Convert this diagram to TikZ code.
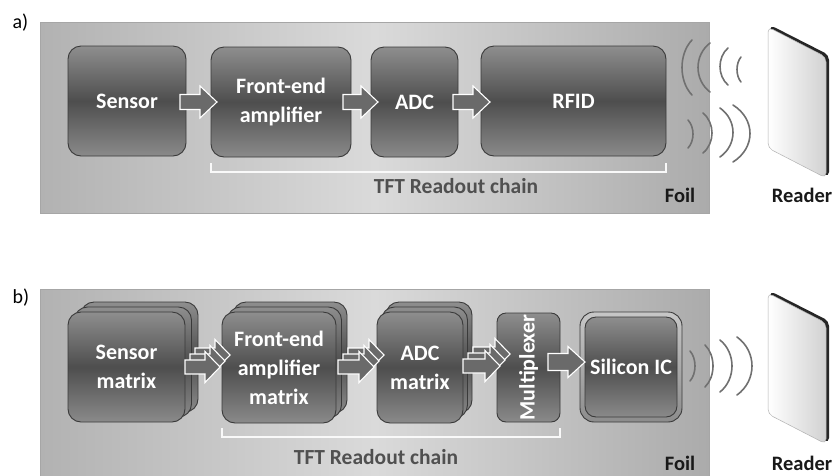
\documentclass[tikz,border=0pt]{standalone}
\usepackage{fontspec}
\setmainfont{Carlito}
\usetikzlibrary{calc}
\definecolor{boxtop}{HTML}{8E8E8E}
\definecolor{boxmid}{HTML}{4E4E4E}
\definecolor{boxbot}{HTML}{8A8A8A}
\definecolor{boxedge}{HTML}{3A3A3A}
\definecolor{foilL}{HTML}{B2B2B2}
\definecolor{foilM}{HTML}{DADADA}
\definecolor{foilR}{HTML}{ABABAB}
\definecolor{wavec}{HTML}{707070}
\definecolor{tftc}{HTML}{505050}
\definecolor{arrfill}{HTML}{6A6A6A}
\tikzset{
  blk/.style={draw=boxedge, line width=0.9pt, rounded corners=13pt,
    top color=boxtop, bottom color=boxbot, middle color=boxmid,
    text=white, font=\fontsize{22}{29}\selectfont\bfseries, align=center, inner sep=0pt},
  foil/.style={draw=gray!70, line width=0.6pt, left color=foilL, right color=foilR, middle color=foilM},
  barrow/.style={fill=arrfill, draw=white, line width=1.1pt, line join=miter},
  wavestyle/.style={draw=wavec, line width=1.6pt, line cap=round},
  bracketline/.style={draw=white!95!gray, line width=1.4pt},
  tft/.style={text=tftc, font=\fontsize{21.5}{25}\selectfont\bfseries, anchor=base},
  lbl/.style={text=black!90, font=\fontsize{20.5}{24}\selectfont\bfseries, anchor=base},
  panel/.style={text=black, font=\fontsize{20}{24}\selectfont, anchor=base west},
  readerside/.style={fill=black!85, rounded corners=5pt},
  readerface/.style={left color=white, right color=black!18, draw=black!30, line width=0.5pt, rounded corners=5pt},
}
% block arrow: start, end, shaft half, head half, head length
\newcommand\blockarr[5]{%
  \path[barrow] let \p1=(#1), \p2=(#2) in
  (\x1,\y1+#3) -- (\x2-#5,\y1+#3) -- (\x2-#5,\y1+#4) -- (\x2,\y1)
  -- (\x2-#5,\y1-#4) -- (\x2-#5,\y1-#3) -- (\x1,\y1-#3) -- cycle;}
% wave arc: tip x, center y, half height, bulge (signed)
\newcommand\wavearc[4]{%
  \draw[wavestyle] (#1,{#2-#3}) .. controls ({#1+1.333*#4},{#2-0.5*#3}) and ({#1+1.333*#4},{#2+0.5*#3}) .. (#1,{#2+#3});}
\begin{document}
\begin{tikzpicture}[x=1pt,y=-1pt]
\useasboundingbox (0,0) rectangle (838,475);
\fill[white] (0,0) rectangle (838,475);

% ================= panel a =================
\node[panel] (la) at (9,28) {a)};
\path[foil] (40,22) rectangle (709,213);

\node[blk, minimum width=118pt, minimum height=110pt] (sensor) at (127,101) {Sensor};
\node[blk, minimum width=140pt, minimum height=110pt] (fe) at (281,102) {Front-end\\amplifier};
\node[blk, minimum width=87pt, minimum height=110pt] (adc) at (414.5,102) {ADC};
\node[blk, minimum width=185pt, minimum height=110pt] (rfid) at (573.5,101) {RFID};

\coordinate (a1s) at (180,102); \coordinate (a1e) at (217,102);
\coordinate (a2s) at (343,102); \coordinate (a2e) at (378,102);
\coordinate (a3s) at (453,102); \coordinate (a3e) at (490,102);
\blockarr{a1s}{a1e}{7.5pt}{16pt}{17pt}
\blockarr{a2s}{a2e}{7.5pt}{16pt}{17pt}
\blockarr{a3s}{a3e}{7.5pt}{16pt}{17pt}

\draw[bracketline] (211,163) -- (211,172) -- (666,172) -- (666,163);
\node[tft] (tfta) at (456,193) {TFT Readout chain};
\node[lbl] (foila) at (680,202) {Foil};

% waves a
\wavearc{692}{67.5}{27.5}{-10}
\wavearc{710}{67.5}{24.5}{-12}
\wavearc{728}{66.5}{18.5}{-8}
\wavearc{741}{69.5}{12.5}{-4}
\wavearc{688}{134}{14}{5}
\wavearc{703}{133}{20}{9}
\wavearc{720}{132.5}{24.5}{13}
\wavearc{733}{133.5}{28.5}{17}

% reader a
\path[readerside] (770,25) -- (829,55) -- (829,177) -- (770,147) -- cycle;
\path[readerface] (768,27) -- (826,57) -- (826,178) -- (768,148) -- cycle;
\node[lbl] (readera) at (802,202) {Reader};

% ================= panel b =================
\node[panel] (lb) at (9,303) {b)};
\path[foil] (40,289) rectangle (709,480);

% sensor matrix
\node[blk, minimum width=117pt, minimum height=110pt] (sm3) at (139.5,357) {};
\node[blk, minimum width=117pt, minimum height=110pt] (sm2) at (133,362) {};
\node[blk, minimum width=117pt, minimum height=110pt] (sm) at (126.5,367) {Sensor\\matrix};
% front-end matrix
\node[blk, minimum width=114pt, minimum height=111pt] (fm3) at (290,357.5) {};
\node[blk, minimum width=114pt, minimum height=111pt] (fm2) at (284.5,362.5) {};
\node[blk, minimum width=114pt, minimum height=111pt] (fm) at (279,367.5) {Front-end\\amplifier\\matrix};
% adc matrix
\node[blk, minimum width=86pt, minimum height=111pt] (am3) at (429,357.5) {};
\node[blk, minimum width=86pt, minimum height=111pt] (am2) at (424.5,362.5) {};
\node[blk, minimum width=86pt, minimum height=111pt] (am) at (420,367.5) {ADC\\matrix};
% multiplexer
\node[blk, rotate=90, rounded corners=9pt, minimum width=109pt, minimum height=63pt] (mux) at (528.5,367.5) {Multiplexer};
% silicon IC
\node[draw=boxedge, line width=0.9pt, rounded corners=14pt, top color=black!22, bottom color=black!45,
      minimum width=102pt, minimum height=110pt] (sicout) at (631,367) {};
\node[blk, rounded corners=11pt, minimum width=92pt, minimum height=100pt] (sic) at (sicout) {Silicon IC};

% stacked arrows
\coordinate (b1s) at (185,367); \coordinate (b1e) at (220,367);
\coordinate (b2s) at (338,367); \coordinate (b2e) at (374,367);
\coordinate (b3s) at (463,366); \coordinate (b3e) at (500,366);
\foreach \s/\e in {b1s/b1e, b2s/b2e, b3s/b3e}{
  \blockarr{$(\s)+(10,-12)$}{$(\e)+(10,-12)$}{7pt}{15.5pt}{15pt}
  \blockarr{$(\s)+(5,-6)$}{$(\e)+(5,-6)$}{7pt}{15.5pt}{15pt}
  \blockarr{\s}{\e}{7pt}{15.5pt}{15pt}
}
\coordinate (b4s) at (548,362); \coordinate (b4e) at (585,362);
\blockarr{b4s}{b4e}{8.5pt}{15.5pt}{17pt}

\draw[bracketline] (222,428) -- (222,437) -- (560,437) -- (560,428);
\node[tft] (tftb) at (376,464) {TFT Readout chain};
\node[lbl] (foilb) at (680,470) {Foil};

% waves b
\wavearc{690}{366}{15}{5}
\wavearc{705}{366}{21}{8}
\wavearc{720}{366}{26}{12}
\wavearc{737}{366}{29}{15}

% reader b
\path[readerside] (770,291) -- (829,321) -- (829,443) -- (770,413) -- cycle;
\path[readerface] (768,293) -- (826,323) -- (826,444) -- (768,414) -- cycle;
\node[lbl] (readerb) at (802,470) {Reader};
\end{tikzpicture}
\end{document}
